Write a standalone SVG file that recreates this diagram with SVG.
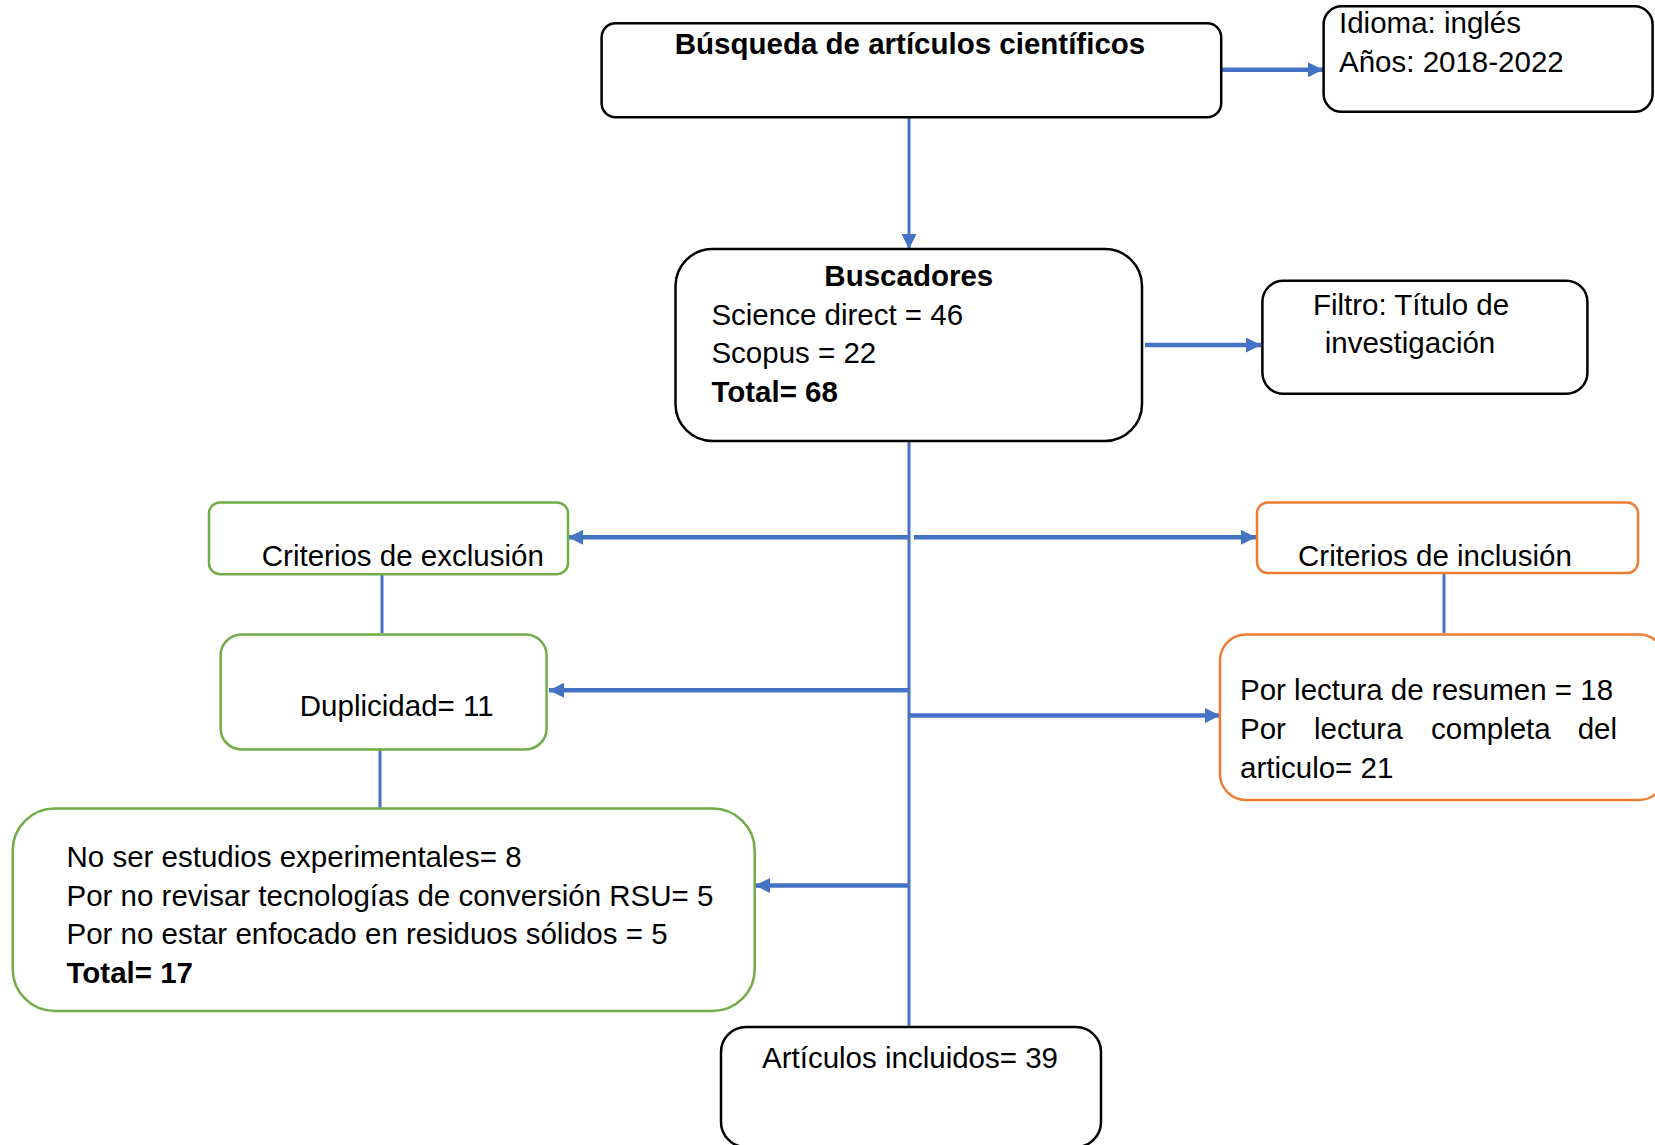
<svg xmlns="http://www.w3.org/2000/svg" width="1655" height="1145" viewBox="0 0 1655 1145">
<defs>
<style>
text{font-family:"Liberation Sans",Arial,sans-serif;font-size:29.5px;fill:#000}
.b{font-weight:bold}
.box{fill:#fff;stroke:#000;stroke-width:2.5}
.g{fill:#fff;stroke:#70AD47;stroke-width:2.5}
.o{fill:#fff;stroke:#ED7D31;stroke-width:2.5}
.arr{stroke:#4472C4;stroke-width:4.5;fill:none}
.ln{stroke:#4472C4;stroke-width:3;fill:none}
</style>
<marker id="ah" viewBox="0 0 10 10" refX="10" refY="5" markerWidth="15" markerHeight="15" markerUnits="userSpaceOnUse" orient="auto">
<path d="M0,0 L10,5 L0,10 z" fill="#4472C4"/>
</marker>
</defs>
<g id="connectors">
<line class="arr" x1="1221" y1="69.7" x2="1323" y2="69.7" marker-end="url(#ah)"/>
<line class="ln" x1="909" y1="117" x2="909" y2="249" marker-end="url(#ah)"/>
<line class="arr" x1="1145" y1="345" x2="1261" y2="345" marker-end="url(#ah)"/>
<line class="ln" x1="909" y1="441" x2="909" y2="1027"/>
<line class="arr" x1="909" y1="537.3" x2="568" y2="537.3" marker-end="url(#ah)"/>
<line class="arr" x1="914" y1="537.3" x2="1256" y2="537.3" marker-end="url(#ah)"/>
<line class="ln" x1="382" y1="574" x2="382" y2="633"/>
<line class="ln" x1="1444" y1="573" x2="1444" y2="633"/>
<line class="arr" x1="909" y1="690.3" x2="549" y2="690.3" marker-end="url(#ah)"/>
<line class="arr" x1="909" y1="715.6" x2="1220" y2="715.6" marker-end="url(#ah)"/>
<line class="ln" x1="380" y1="749" x2="380" y2="808.5"/>
<line class="arr" x1="909" y1="885.6" x2="755" y2="885.6" marker-end="url(#ah)"/>
</g>
<g id="busqueda">
<rect class="box" x="601.6" y="23.2" width="619.6" height="94" rx="14"/>
<text class="b" x="910" y="53.8" text-anchor="middle">Búsqueda de artículos científicos</text>
</g>
<g id="idioma">
<rect class="box" x="1323.6" y="6.3" width="329" height="105.5" rx="18"/>
<text x="1339" y="32.7">Idioma: inglés</text>
<text x="1339" y="71.7">Años: 2018-2022</text>
</g>
<g id="buscadores">
<rect class="box" x="675.5" y="249" width="466.5" height="192" rx="37"/>
<text class="b" x="908.8" y="286" text-anchor="middle">Buscadores</text>
<text x="711.4" y="325">Science direct = 46</text>
<text x="711.4" y="363">Scopus = 22</text>
<text class="b" x="711.4" y="402">Total= 68</text>
</g>
<g id="filtro">
<rect class="box" x="1262.4" y="280.8" width="325" height="113" rx="21"/>
<text x="1411" y="314.5" text-anchor="middle">Filtro: Título de</text>
<text x="1410" y="352.5" text-anchor="middle">investigación</text>
</g>
<g id="exclusion">
<rect class="g" x="209" y="502.4" width="359" height="71.8" rx="11"/>
<text x="261.8" y="565.7">Criterios de exclusión</text>
</g>
<g id="inclusion">
<rect class="o" x="1257" y="502.4" width="381" height="70.6" rx="11"/>
<text x="1298" y="565.7">Criterios de inclusión</text>
</g>
<g id="duplicidad">
<rect class="g" x="220.6" y="634.4" width="326" height="115" rx="21"/>
<text x="299.8" y="715.6">Duplicidad= 11</text>
</g>
<g id="inclusion-results">
<rect class="o" x="1220" y="634.4" width="445" height="165.6" rx="26"/>
<text x="1240" y="699.7">Por lectura de resumen = 18</text>
<text y="738.8"><tspan x="1240">Por</tspan><tspan x="1314">lectura</tspan><tspan x="1431">completa</tspan></text>
<text x="1617" y="738.8" text-anchor="end">del</text>
<text x="1240" y="777.8">articulo= 21</text>
</g>
<g id="exclusion-results">
<rect class="g" x="12.7" y="808.5" width="742" height="202.5" rx="42"/>
<text x="66.5" y="866.5">No ser estudios experimentales= 8</text>
<text x="66.5" y="905.6">Por no revisar tecnologías de conversión RSU= 5</text>
<text x="66.5" y="943.6">Por no estar enfocado en residuos sólidos = 5</text>
<text class="b" x="66.5" y="982.6">Total= 17</text>
</g>
<g id="incluidos">
<rect class="box" x="721" y="1027" width="380" height="120" rx="25"/>
<text x="910" y="1068" text-anchor="middle">Artículos incluidos= 39</text>
</g>
</svg>
